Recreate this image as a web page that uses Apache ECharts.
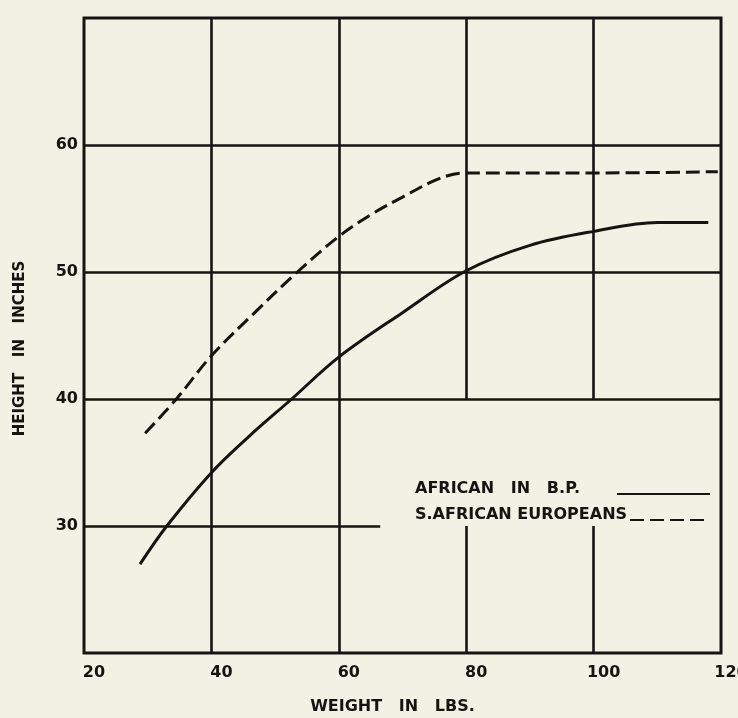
<!DOCTYPE html>
<html>
<head>
<meta charset="utf-8">
<script src="https://cdn.jsdelivr.net/npm/echarts@6/dist/echarts.min.js"></script>
<style>
  html, body { margin: 0; padding: 0; background: #f3f0e4; }
  #chart { width: 738px; height: 718px; }
</style>
</head>
<body>
<div id="chart"></div>
<script>
// ---- Data ----
const seriesNames = ['AFRICAN   IN   B.P.', 'S.AFRICAN EUROPEANS'];

// African in B.P. (weight lbs, height inches)
const africanWeights = [28.8, 33, 40, 46, 52.6, 60, 70, 80, 90, 100, 110, 118];
const africanHeights = [27.0, 30.0, 34.2, 37.1, 40.0, 43.3, 46.8, 50.1, 52.1, 53.2, 53.9, 53.9];

// South African Europeans
const europeanWeights = [29.6, 34.5, 40, 47, 53.5, 60, 65, 70, 75, 78, 80, 100, 119.5];
const europeanHeights = [37.3, 40.0, 43.4, 46.9, 50.0, 52.8, 54.5, 55.9, 57.2, 57.7, 57.8, 57.8, 57.9];

// Axis ticks
const xTicks = [20, 40, 60, 80, 100, 120];
const yTicks = [30, 40, 50, 60];

// Grid rule segments as drawn on the original (data units: x1, y1, x2, y2)
const gridSegments = [
  [20, 60, 120, 60],
  [20, 50, 120, 50],
  [20, 40, 120, 40],
  [20, 30, 66.5, 30],
  [40, 20, 40, 70],
  [60, 20, 60, 70],
  [80, 40, 80, 70],
  [80, 20, 80, 30],
  [100, 40, 100, 70],
  [100, 20, 100, 30]
];

const ink = '#161412';
const paper = '#f3f0e4';
const font = 'DejaVu Sans';

const chart = echarts.init(document.getElementById('chart'), null, { renderer: 'canvas' });

const pair = (xs, ys) => xs.map((x, i) => [x, ys[i]]);

const legendItem = (name, top, iconW, textW) => ({
  data: [name],
  orient: 'horizontal', align: 'right', left: 410, top: top,
  itemWidth: iconW, itemHeight: 14, itemGap: 0,
  itemStyle: { opacity: 0 },
  selectedMode: false,
  formatter: n => '{t|' + n + '}',
  textStyle: {
    color: ink,
    rich: {
      t: {
        fontFamily: font, fontWeight: 'bold', fontSize: 16, color: ink,
        width: textW, align: 'left', padding: [0, 0, 10, 0]
      }
    }
  }
});

chart.setOption({
  backgroundColor: paper,
  animation: false,
  grid: {
    left: 84, right: 17, top: 18, bottom: 65,
    outerBoundsMode: 'none', containLabel: false,
    show: true, borderColor: ink, borderWidth: 3, backgroundColor: 'transparent'
  },
  xAxis: {
    type: 'value', min: 20, max: 120, interval: 20,
    name: 'WEIGHT   IN   LBS.', nameLocation: 'middle', nameGap: 46,
    nameTextStyle: { fontFamily: font, fontWeight: 'bold', fontSize: 16, color: ink, padding: [0, 20, 0, 0] },
    axisLine: { show: false }, axisTick: { show: false }, splitLine: { show: false },
    axisLabel: {
      margin: 12, fontFamily: font, fontWeight: 'bold', fontSize: 16, color: ink,
      padding: [0, 0, 0, 20],
      formatter: v => xTicks.includes(v) ? String(v) : ''
    }
  },
  yAxis: {
    type: 'value', min: 20, max: 70, interval: 10,
    name: 'HEIGHT   IN   INCHES', nameLocation: 'middle', nameGap: 56, nameRotate: 90,
    nameTextStyle: { fontFamily: font, fontWeight: 'bold', fontSize: 15, color: ink, padding: [0, 26, 0, 0] },
    axisLine: { show: false }, axisTick: { show: false }, splitLine: { show: false },
    axisLabel: {
      margin: 6, fontFamily: font, fontWeight: 'bold', fontSize: 16, color: ink,
      formatter: v => yTicks.includes(v) ? String(v) : ''
    }
  },
  legend: [
    legendItem(seriesNames[0], 476, 93, 197),
    legendItem(seriesNames[1], 502, 75, 210)
  ],
  series: [
    {
      name: 'grid', type: 'line', data: [], silent: true,
      markLine: {
        silent: true, symbol: ['none', 'none'], animation: false,
        label: { show: false },
        lineStyle: { color: ink, width: 2.6, type: 'solid' },
        emphasis: { disabled: true },
        data: gridSegments.map(s => [{ coord: [s[0], s[1]] }, { coord: [s[2], s[3]] }])
      }
    },
    {
      name: seriesNames[0], type: 'line', data: pair(africanWeights, africanHeights),
      smooth: 0.35, symbol: 'none', silent: true, z: 5,
      lineStyle: { color: ink, width: 3, type: 'solid' },
      itemStyle: { color: ink }
    },
    {
      name: seriesNames[1], type: 'line', data: pair(europeanWeights, europeanHeights),
      smooth: 0.35, symbol: 'none', silent: true, z: 5,
      lineStyle: { color: ink, width: 3, type: [14, 6] },
      itemStyle: { color: ink }
    }
  ]
});
</script>
</body>
</html>
